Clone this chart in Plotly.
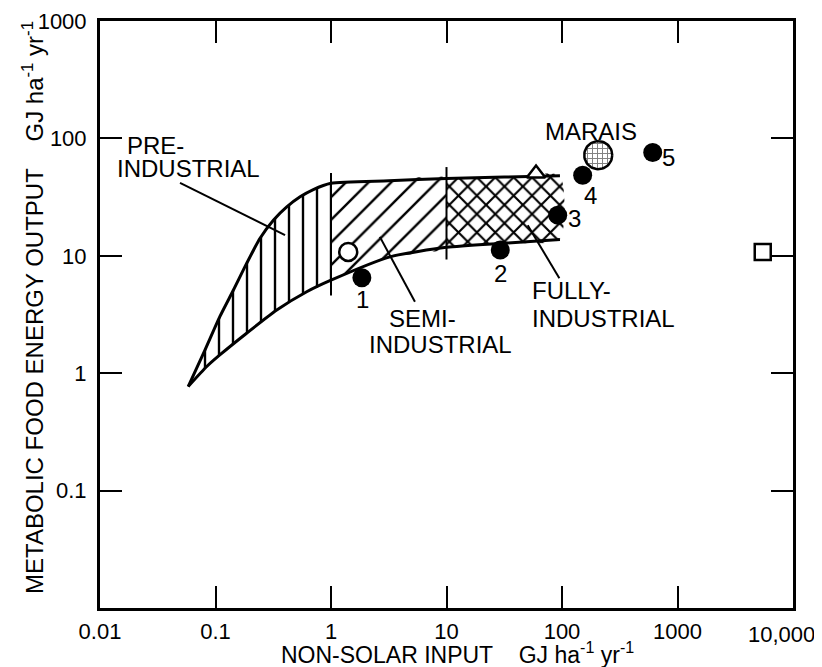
import numpy as np
import plotly.graph_objects as go

# ---------------- data ----------------
# boundary curves of the production envelope (GJ/ha/yr)
upper_x = [0.058, 0.081, 0.109, 0.143, 0.186, 0.243, 0.317, 0.414, 0.540, 0.703, 1.0, 3.16, 10.0, 31.6, 96.0]
upper_y = [0.77, 1.57, 3.03, 5.11, 8.61, 14.1, 20.1, 26.1, 31.8, 36.7, 41.5, 43.6, 45.6, 46.8, 48.0]
lower_x = [0.058, 0.084, 0.109, 0.186, 0.339, 0.616, 1.0, 3.24, 10.0, 31.6, 96.0]
lower_y = [0.77, 1.14, 1.43, 2.19, 3.45, 4.94, 6.2, 9.8, 11.8, 12.8, 13.8]

# stage boundaries (vertical dividers)
divider_x = [1.0, 10.0]
divider_ylo = [4.6, 9.3]
divider_yhi = [50.8, 57.0]

# numbered systems
pt_x = [1.85, 29.2, 91.8, 151.0, 610.0]
pt_y = [6.5, 11.2, 22.2, 48.6, 75.9]
pt_labels = ["1", "2", "3", "4", "5"]

open_circle = (1.41, 10.8)
open_triangle = (59.6, 50.3)
open_square = (5470.0, 10.8)
marais = (206.0, 72.0)

x_ticks = [0.01, 0.1, 1, 10, 100, 1000, 10000]
x_ticktext = ["0.01", "0.1", "1", "10", "100", "1000", ""]
x_last_label = "10,000"          # drawn separately so it stays inside the page
y_ticks = [0.1, 1, 10, 100, 1000]
y_ticktext = ["0.1", "1", "10", "100", "1000"]

# region labels: (text, x, y)
region_labels = [
    ("PRE-", 0.0165, 87.5),
    ("INDUSTRIAL", 0.0135, 55.7),
    ("SEMI-", 3.03, 2.95),
    ("INDUSTRIAL", 2.04, 1.74),
    ("FULLY-", 52.8, 5.10),
    ("INDUSTRIAL", 52.8, 2.95),
]
marais_label = ("MARAIS", 178.0, 115.0)

# leader lines: (x0, y0, x1, y1)
leaders = [
    (0.0493, 41.8, 0.400, 15.0),
    (2.65, 14.5, 5.33, 4.06),
    (50.5, 18.2, 94.9, 6.43),
]

# ---------------- figure ----------------
FONT = "Liberation Sans, Arial, sans-serif"
FS = 24
OFF = 8                      # browser body margin
PAGE_W, PAGE_H = 822, 667
PL, PR, PT, PB = 100, 793, 21, 608   # wanted plot box in page pixels
W, H = PAGE_W - OFF, PAGE_H - OFF
ML, MT = PL - OFF, PT - OFF
MR, MB = W + OFF - PR, H + OFF - PB
X_RANGE = [-2, 4]
Y_RANGE = [-2, 3]
px_per_dec_x = (PR - PL) / (X_RANGE[1] - X_RANGE[0])
px_per_dec_y = (PB - PT) / (Y_RANGE[1] - Y_RANGE[0])


def paper_x(px):
    return (px - PL) / (PR - PL)


def paper_y(py):
    return (PB - py) / (PB - PT)


fig = go.Figure()


def region(xlo, xhi):
    ux = [x for x in upper_x if xlo <= x <= xhi]
    uy = [y for x, y in zip(upper_x, upper_y) if xlo <= x <= xhi]
    lx = [x for x in lower_x if xlo <= x <= xhi]
    ly = [y for x, y in zip(lower_x, lower_y) if xlo <= x <= xhi]
    return ux + lx[::-1], uy + ly[::-1]


for (xlo, xhi, shape, size, sol) in [
    (0.0, 1.0, "|", 14, 0.17),
    (1.0, 10.0, "/", 16, 0.15),
    (10.0, 100.0, "x", 13, 0.30),
]:
    rx, ry = region(xlo, xhi)
    fig.add_trace(go.Scatter(
        x=rx, y=ry, mode="lines", fill="toself",
        line=dict(width=0, color="black", shape="spline", smoothing=0.6),
        fillcolor="rgba(0,0,0,0)",
        fillpattern=dict(shape=shape, size=size, solidity=sol,
                         fgcolor="black", bgcolor="white", fillmode="replace"),
        hoverinfo="skip", showlegend=False,
    ))

# boundary curves
for bx, by in [(upper_x, upper_y), (lower_x, lower_y)]:
    fig.add_trace(go.Scatter(x=bx, y=by, mode="lines",
                             line=dict(color="black", width=3, shape="spline", smoothing=0.6),
                             hoverinfo="skip", showlegend=False))

# dividers
for dx, ylo, yhi in zip(divider_x, divider_ylo, divider_yhi):
    fig.add_trace(go.Scatter(x=[dx, dx], y=[ylo, yhi], mode="lines",
                             line=dict(color="black", width=2),
                             hoverinfo="skip", showlegend=False))

# leader lines
for (x0, y0, x1, y1) in leaders:
    fig.add_trace(go.Scatter(x=[x0, x1], y=[y0, y1], mode="lines",
                             line=dict(color="black", width=2),
                             hoverinfo="skip", showlegend=False))

# Marais: grid-patterned circle
r_px = 14
theta = np.linspace(0, 2 * np.pi, 60)
mx = 10 ** (np.log10(marais[0]) + (r_px / px_per_dec_x) * np.cos(theta))
my = 10 ** (np.log10(marais[1]) + (r_px / px_per_dec_y) * np.sin(theta))
fig.add_trace(go.Scatter(
    x=mx, y=my, mode="lines", fill="toself",
    line=dict(color="black", width=2.5),
    fillcolor="rgba(0,0,0,0)",
    fillpattern=dict(shape="+", size=5, solidity=0.35, fgcolor="black", bgcolor="white"),
    hoverinfo="skip", showlegend=False,
))

# open symbols
fig.add_trace(go.Scatter(x=[open_circle[0]], y=[open_circle[1]], mode="markers",
                         marker=dict(symbol="circle", size=18, color="white",
                                     line=dict(color="black", width=2.5)),
                         hoverinfo="skip", showlegend=False))
fig.add_trace(go.Scatter(x=[open_triangle[0]], y=[open_triangle[1]], mode="markers",
                         marker=dict(symbol="triangle-up", size=16, color="white",
                                     line=dict(color="black", width=2.5)),
                         hoverinfo="skip", showlegend=False))
fig.add_trace(go.Scatter(x=[open_square[0]], y=[open_square[1]], mode="markers",
                         marker=dict(symbol="square", size=16, color="white",
                                     line=dict(color="black", width=2.5)),
                         hoverinfo="skip", showlegend=False))

# numbered filled points
fig.add_trace(go.Scatter(
    x=pt_x, y=pt_y, mode="markers",
    marker=dict(symbol="circle", size=19, color="black"),
    hoverinfo="skip", showlegend=False,
))

label_shifts = [(1, -22), (0, -23), (17, -3), (8, -20), (16, -5)]
annotations = []
for txt, px_, py_, (sx, sy) in zip(pt_labels, pt_x, pt_y, label_shifts):
    annotations.append(dict(x=np.log10(px_), y=np.log10(py_), xref="x", yref="y",
                            text=txt, showarrow=False, xanchor="center", yanchor="middle",
                            xshift=sx, yshift=sy,
                            font=dict(family=FONT, size=FS, color="black")))
for txt, ax_, ay_ in region_labels:
    annotations.append(dict(x=np.log10(ax_), y=np.log10(ay_), xref="x", yref="y",
                            text=txt, showarrow=False, xanchor="left", yanchor="middle",
                            font=dict(family=FONT, size=FS, color="black")))
annotations.append(dict(x=np.log10(marais_label[1]), y=np.log10(marais_label[2]), xref="x", yref="y",
                        text=marais_label[0], showarrow=False, xanchor="center", yanchor="middle",
                        font=dict(family=FONT, size=FS, color="black")))

# last x tick label, nudged left to stay on the page
annotations.append(dict(x=np.log10(x_ticks[-1]), y=0, xref="x", yref="paper",
                        text=x_last_label, showarrow=False, xanchor="right", yanchor="top",
                        xshift=24, yshift=-12,
                        font=dict(family=FONT, size=22, color="black")))

# axis titles
annotations.append(dict(x=paper_x(457), y=paper_y(653),
                        xref="paper", yref="paper", showarrow=False,
                        text="NON-SOLAR INPUT&nbsp;&nbsp;&nbsp;&nbsp;GJ ha<sup>-1</sup> yr<sup>-1</sup>",
                        xanchor="center", yanchor="middle",
                        font=dict(family=FONT, size=23, color="black")))
annotations.append(dict(x=paper_x(33), y=paper_y(308),
                        xref="paper", yref="paper", showarrow=False, textangle=-90,
                        text="METABOLIC FOOD ENERGY OUTPUT&nbsp;&nbsp;&nbsp;&nbsp;GJ ha<sup>-1</sup> yr<sup>-1</sup>",
                        xanchor="center", yanchor="middle",
                        font=dict(family=FONT, size=FS, color="black")))

axis_common = dict(type="log", showgrid=False, zeroline=False, showline=True,
                   linecolor="black", linewidth=3, mirror="ticks", ticks="inside",
                   ticklen=22, tickwidth=2, tickcolor="black", automargin=False,
                   tickfont=dict(family=FONT, size=22, color="black"))

fig.update_layout(
    width=W, height=H,
    margin=dict(l=ML, r=MR, t=MT, b=MB, pad=0, autoexpand=False),
    paper_bgcolor="white", plot_bgcolor="white",
    xaxis=dict(range=X_RANGE, tickvals=x_ticks, ticktext=x_ticktext,
               ticklabelstandoff=2, **axis_common),
    yaxis=dict(range=Y_RANGE, tickvals=y_ticks, ticktext=y_ticktext,
               ticklabelstandoff=6, **axis_common),
    annotations=annotations,
    showlegend=False,
)

fig.write_html("out.html")
